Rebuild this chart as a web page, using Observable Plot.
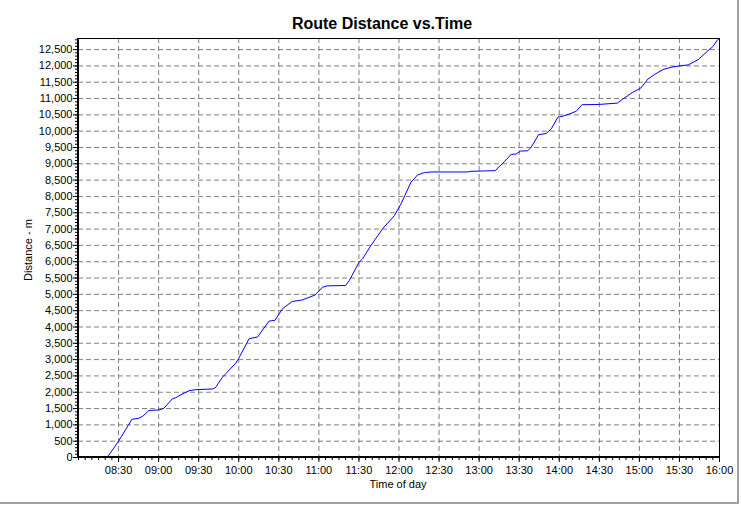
<!DOCTYPE html>
<html><head><meta charset="utf-8">
<script src="https://cdn.jsdelivr.net/npm/d3@7"></script>
<script src="https://cdn.jsdelivr.net/npm/@observablehq/plot@0.6"></script>
<style>
body{margin:0;background:#fff;}
#wrap{position:relative;width:741px;height:506px;overflow:hidden;}
#border{position:absolute;left:0;top:0;width:737px;height:502px;border-right:2px solid #a0a0a0;border-bottom:2px solid #a0a0a0;pointer-events:none;}
</style></head><body><div id="wrap"><div id="border"></div></div>
<script>
const titleText = "Route Distance vs.Time";
const xLabel = "Time of day";
const yLabel = "Distance - m";

const times = [
  "08:21:30","08:30:00","08:40:00","08:45:00","08:48:00","08:52:45","09:01:00","09:04:00",
  "09:10:15","09:12:45","09:17:30","09:22:45","09:27:45","09:40:30","09:42:45","09:47:45",
  "09:57:45","10:00:00","10:07:45","10:14:00","10:22:45","10:27:00","10:32:45","10:40:00",
  "10:47:45","10:57:15","11:02:45","11:06:30","11:20:00","11:22:45","11:30:00","11:32:45",
  "11:39:00","11:47:45","11:56:30","12:01:30","12:09:00","12:14:00","12:19:00","12:24:00",
  "12:51:30","12:54:00","13:12:00","13:19:00","13:24:00","13:27:45","13:31:00","13:36:30",
  "13:39:00","13:44:30","13:50:15","13:54:00","13:59:00","14:02:45","14:07:45","14:12:45",
  "14:17:00","14:30:00","14:43:30","14:47:45","14:55:00","15:01:00","15:06:30","15:11:30",
  "15:17:45","15:24:00","15:31:30","15:36:30","15:44:00","15:51:30","15:55:00","15:58:30",
  "16:00:00"
];
const distances = [
  0,500,1170,1200,1260,1440,1460,1510,
  1800,1830,1940,2045,2080,2100,2150,2460,
  2890,3040,3640,3690,4180,4200,4560,4780,
  4830,4980,5220,5260,5270,5420,5980,6090,
  6500,7010,7410,7770,8440,8660,8730,8750,
  8750,8770,8790,9070,9290,9300,9390,9400,
  9510,9890,9930,10070,10430,10460,10530,10610,
  10810,10820,10860,10990,11190,11320,11600,11740,
  11890,11960,12010,12030,12190,12470,12590,12800,
  12840
];
const xTickLabels = ["08:30","09:00","09:30","10:00","10:30","11:00","11:30","12:00",
  "12:30","13:00","13:30","14:00","14:30","15:00","15:30","16:00"];
const yTickValues = [0,500,1000,1500,2000,2500,3000,3500,4000,4500,5000,5500,6000,
  6500,7000,7500,8000,8500,9000,9500,10000,10500,11000,11500,12000,12500];
const xStart = "08:00", xEnd = "16:00";
const yMax = 12840;

const parseT = t => new Date(`2000-01-01T${t.length === 5 ? t + ":00" : t}Z`);
const data = times.map((t, i) => ({time: parseT(t), dist: distances[i]}));
const xDomain = [parseT(xStart), parseT(xEnd)];
const xTicks = xTickLabels.map(parseT);
const minorX = d3.utcMinute.every(5).range(xDomain[0], new Date(+xDomain[1] + 1));
const minorY = d3.range(0, yMax, 100);
const grid = {stroke: "#808080", strokeOpacity: 1, strokeDasharray: "5,3"};

const plot = Plot.plot({
  width: 741, height: 506,
  marginLeft: 78, marginRight: 22, marginTop: 38, marginBottom: 49,
  style: {fontFamily: "'Liberation Sans', Arial, sans-serif", fontSize: "11px", background: "transparent", color: "black"},
  x: {type: "utc", domain: xDomain},
  y: {domain: [0, yMax]},
  marks: [
    Plot.gridX(xTicks, grid),
    Plot.gridY(yTickValues.filter(d => d > 0), grid),
    Plot.axisX(minorX, {tickSize: 3, tickFormat: () => "", label: null}),
    Plot.axisX(xTicks, {tickSize: 5, tickPadding: 4, tickFormat: d3.utcFormat("%H:%M"), label: null}),
    Plot.axisY(minorY, {tickSize: 3, tickFormat: () => "", label: null}),
    Plot.axisY(yTickValues, {tickSize: 5, tickPadding: 1, tickFormat: d3.format(","), label: null}),
    Plot.frame({stroke: "black"}),
    Plot.line(data, {x: "time", y: "dist", stroke: "#0000ff", strokeWidth: 1}),
    Plot.ruleY([0], {stroke: "black", strokeWidth: 2, dy: -0.5}),
    Plot.ruleX([xDomain[0]], {stroke: "black", strokeWidth: 2, dx: -0.5})
  ]
});
document.getElementById("wrap").prepend(plot);

const svg = d3.select(plot);
svg.append("text").attr("x", 382).attr("y", 29).attr("text-anchor", "middle")
  .style("font-size", "16px").style("font-weight", "bold").attr("fill", "black").text(titleText);
svg.append("text").attr("x", 398).attr("y", 488).attr("text-anchor", "middle")
  .style("font-size", "11px").attr("fill", "black").text(xLabel);
svg.append("text").attr("transform", "translate(32,250) rotate(-90)").attr("text-anchor", "middle")
  .style("font-size", "11px").attr("fill", "black").text(yLabel);
</script></body></html>
